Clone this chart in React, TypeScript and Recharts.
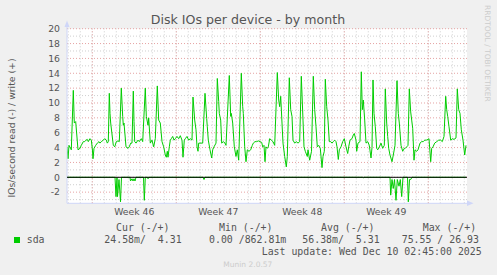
import React from "react";
import { ComposedChart, Line, XAxis, YAxis, ReferenceLine, CartesianGrid } from "recharts";

// time in 2-hour samples from the left edge of the graph
const writeT = [
  0, 1, 2, 3.5, 4.3, 6.3, 7.3, 8.7, 9.3, 11, 13, 14.3, 16.3, 17.7, 19, 20.3, 21.3, 23, 24.3, 25.3, 26, 27,
  28.7, 30.3, 32, 33, 34.3, 36.3, 37.7, 39.3, 40.3, 41.3, 42.3, 43, 43.7, 46.3, 47.7, 49.3, 51, 52.3,
  54.3, 55.7, 56.3, 57, 59, 61, 62.3, 63.7, 65, 66.3, 67, 67.7, 69, 71, 72.3, 74.3, 75.7, 78.3, 79.3,
  81, 81.7, 83.3, 85, 86.7, 88.3, 90.3, 91.7, 93.3, 95, 96.7, 98.3, 99.3, 100.3, 101, 102.3, 103.3,
  104.3, 105.7, 107, 108.3, 110, 111.7, 113.3, 115, 116, 117.3, 118.3, 120, 121.7, 123.3, 125, 126,
  127.7, 129, 130, 131, 131.7, 133, 135.7, 138, 139.7, 140.3, 141.3, 143, 144.7, 145.7, 147, 149,
  150.3, 151.7, 152.3, 153.7, 154.7, 156.3, 158, 159, 162.3, 163.7, 164.3, 165.7, 167.3, 169, 170.3,
  171.7, 174.3, 175.7, 176.3, 177.7, 179, 180.3, 182, 183.7, 185.3, 186.3, 188, 189.7, 191.3, 193,
  194.7, 195.7, 197, 198, 199, 200.3, 201.3, 202.7, 204.3, 206, 207.7, 210.3, 211.7, 212.7, 213.7,
  215, 216, 217.7, 219.3, 220.3, 222.3, 223.7, 225, 226, 227.7, 229.3, 231, 232.7, 234.3, 236, 237,
  238.3, 240.3, 241, 242.7, 244.5, 246.3, 247.7, 249, 250.3, 251.7, 253.3, 255, 256, 257.3, 258.3,
  259.7, 261, 262.3, 263.7, 265, 266.3, 267.7, 269, 270, 271.3, 272.3, 274, 275.7, 277.3, 279, 280.7,
  281.7, 283, 285, 286.3, 287.3, 289, 289.7, 291, 293, 294.3, 295.3, 296.3, 297.7, 299, 300.7, 302.3,
  304, 305, 306, 307, 308.3, 309.7, 310.7, 312.3, 314, 315.7, 317.3, 318.3, 319.7, 320.7, 321.7, 323,
  325, 326.3, 328, 330, 331.3, 332.3, 334, 335.7, 337.3, 338.3, 339.7, 341, 342.3, 343.7, 344.7,
  345.7, 347, 348, 349.7, 351, 353, 354.7, 356.3, 357.7, 359.3, 361, 362, 363.7, 364.7, 366, 367.7,
  369.7, 371.7, 373.7, 375.3, 377, 378.7, 379.7, 380.7, 382, 383.7, 385.3, 387, 389, 390.3, 391.7,
  393, 394.3, 396, 397.7, 399,
];
const writeV = [
  4.1, 2.5, 4.3, 3.9, 3.7, 11.7, 7.3, 7.5, 6.5, 3.7, 3.9, 4.3, 4.8, 4.8, 5.0, 5.1, 4.8, 5.2, 5.0, 3.9, 2.5, 3.9,
  4.3, 4.6, 4.8, 4.6, 4.8, 5.0, 5.2, 5.0, 4.6, 4.8, 11.3, 8.6, 7.3, 4.3, 4.1, 4.8, 4.9, 4.8,
  12.0, 8.2, 7.0, 7.3, 4.1, 3.9, 4.1, 4.6, 4.6, 11.6, 7.5, 4.8, 4.6, 5.0, 4.8, 5.2, 4.8, 12.0, 8.2,
  7.0, 8.0, 4.6, 5.0, 4.1, 5.2, 12.3, 7.7, 7.3, 4.8, 4.1, 3.0, 2.7, 3.5, 2.7, 4.1, 5.0,
  5.2, 5.5, 5.0, 5.2, 5.5, 5.2, 5.6, 5.0, 2.7, 5.0, 5.2, 5.5, 5.0, 5.2, 5.0, 10.8,
  7.7, 6.4, 4.1, 3.5, 4.6, 4.6, 4.6, 11.3, 7.9, 6.8, 5.0, 3.7, 2.6, 3.7, 4.1, 4.6,
  13.3, 10.2, 8.6, 7.7, 4.6, 4.8, 4.6, 4.3, 13.7, 8.2, 8.6, 7.3, 4.1, 2.8, 3.7,
  2.3, 14.0, 9.5, 8.6, 4.1, 2.1, 3.7, 3.5, 3.7, 4.3, 4.6, 4.8, 4.8, 4.9, 4.8,
  4.7, 4.1, 4.3, 2.1, 4.1, 3.9, 4.1, 5.2, 5.0, 4.8, 4.3, 14.1, 10.4, 9.5, 10.9,
  7.3, 4.6, 2.8, 1.4, 2.8, 13.4, 9.1, 8.2, 5.0, 4.6, 4.8, 4.6, 4.8, 13.6, 7.7, 4.1,
  3.5, 2.8, 3.7, 2.3, 3.5, 13.6, 9.1, 6.8, 4.1, 4.3, 3.9, 1.3, 2.8, 3.5, 13.2,
  9.5, 7.7, 4.8, 4.8, 4.6, 4.8, 5.0, 4.8, 4.1, 2.4, 3.7, 4.1, 4.8, 5.2, 4.1, 3.2,
  4.1, 5.0, 5.2, 5.7, 5.9, 5.0, 3.5, 4.6, 4.8, 14.2, 9.1, 10.4, 7.7, 4.6, 4.8, 4.3,
  2.6, 4.0, 13.1, 8.6, 6.8, 3.9, 3.7, 4.1, 4.6, 3.9, 4.3, 11.9, 7.3, 5.5, 3.9, 3.0,
  2.1, 3.0, 4.3, 13.0, 8.6, 7.3, 4.3, 3.5, 3.9, 3.9, 4.1, 4.3, 11.9, 8.8, 7.7,
  6.6, 2.3, 3.7, 3.5, 3.7, 4.6, 4.8, 4.8, 5.0, 5.0, 5.1, 5.2, 2.1, 3.9, 4.1, 4.6,
  4.8, 5.0, 5.0, 4.8, 5.5, 10.9, 9.1, 8.2, 6.8, 5.0, 5.2, 5.1, 5.3, 11.9, 9.1,
  8.6, 6.4, 5.0, 3.0, 4.3,
];
const readT = [
  0, 48, 49, 50, 50.5, 52, 53.5, 54.5, 63, 63.5, 65, 66, 67, 68, 69, 76.5, 77.3, 78.3, 80.5, 81, 82,
  136, 137, 138, 295.5, 296.3, 297, 323, 323.7, 325, 326.3, 327.5, 329, 330.3, 332, 333.3, 334.7, 336,
  340.5, 341.3, 342.5, 343.7, 345, 399,
];
const readV = [
  0, 0, -2.6, 0, -2.6, -0.3, -3.3, 0, 0, -0.5, -0.2, -0.5, -0.2, -0.5, 0, 0, -3.1, 0, 0, -0.2, 0,
  0, -0.3, 0, 0, -0.1, 0, 0, -2.4, -0.3, -1.5, -0.3, -3.1, -0.3, -1.2, -0.3, -2.6, 0,
  0, -3.3, -0.3, -0.3, 0, 0,
];

const weekTicks = [67.3, 151.3, 235.3, 319.3];
const weekLabels = ["Week 46", "Week 47", "Week 48", "Week 49"];
const yTicks = [-2, 0, 2, 4, 6, 8, 10, 12, 14, 16, 18, 20];

const seriesName = "sda";
const legendHeaders = ["Cur (-/+)", "Min (-/+)", "Avg (-/+)", "Max (-/+)"];
const legendValues = ["24.58m/  4.31", "0.00 /862.81m", "56.38m/  5.31", "75.55 / 26.93"];
const lastUpdate = "Last update: Wed Dec 10 02:45:00 2025";

const writeData = writeT.map((t, i) => ({ t, v: writeV[i] }));
const readData = readT.map((t, i) => ({ t, v: readV[i] }));

const dayLines: number[] = [];
for (let k = 0; k < 34; k++) dayLines.push(1.3 + 12 * k);
const weekLines: number[] = [];
for (let k = 0; k < 5; k++) weekLines.push(25.3 + 84 * k);
const hLines: number[] = [];
for (let v = -3; v <= 20; v++) hLines.push(v);

const GREEN = "#00cc00";
const AXIS = "#CFD6F8";
const FONT = "DejaVu Sans";
const MONO = "DejaVu Sans Mono";

export default function App() {
  return (
    <div style={{ position: "absolute", left: 0, top: 0, width: 497, height: 275, background: "#f0f0f0", overflow: "hidden" }}>
      <ComposedChart width={497} height={275} margin={{ top: 28.7, right: 30, bottom: 0, left: 0 }}>
        <CartesianGrid horizontal={false} vertical={false} fill="#ffffff" fillOpacity={1} stroke="none" />
        <XAxis
          dataKey="t"
          type="number"
          domain={[0, 400]}
          allowDataOverflow
          ticks={weekTicks}
          tickFormatter={(v: number) => weekLabels[weekTicks.indexOf(v)] ?? ""}
          height={71.7}
          axisLine={{ stroke: AXIS }}
          tickLine={false}
          tickSize={4}
          tickMargin={1}
          tick={{ fill: "#555", fontSize: 9.3, fontFamily: FONT }}
          interval={0}
        />
        <YAxis
          type="number"
          domain={[-3.5, 20]}
          allowDataOverflow
          ticks={yTicks}
          width={67}
          axisLine={{ stroke: AXIS }}
          tickLine={false}
          tickSize={5}
          tickMargin={2}
          tick={{ fill: "#555", fontSize: 9.3, fontFamily: FONT }}
          interval={0}
        />
        {hLines.map((v) => (
          <ReferenceLine key={"h" + v} y={v} stroke={v % 2 === 0 ? "#e6a3a3" : "#cfcfcf"} strokeDasharray="1 2" zIndex={-50} />
        ))}
        {dayLines.map((t) => (
          <ReferenceLine key={"d" + t} x={t} stroke="#cfcfcf" strokeDasharray="1 2" zIndex={-50} />
        ))}
        {weekLines.map((t) => (
          <ReferenceLine key={"w" + t} x={t} stroke="#e6a3a3" strokeDasharray="1 2" zIndex={-40} />
        ))}
        <Line data={readData} dataKey="v" type="linear" stroke={GREEN} strokeWidth={1} dot={false} isAnimationActive={false} />
        <Line data={writeData} dataKey="v" type="linear" stroke={GREEN} strokeWidth={1} dot={false} isAnimationActive={false} />
        <ReferenceLine y={0} stroke="#000000" strokeWidth={1} zIndex={1000} />
      </ComposedChart>
      <svg width={497} height={275} style={{ position: "absolute", left: 0, top: 0, pointerEvents: "none" }}>
        <polygon points="64.5,27 67,20.5 69.5,27" fill={AXIS} />
        <line x1={67} y1={27} x2={67} y2={29} stroke={AXIS} />
        <polygon points="467,200.5 473.5,203.3 467,206" fill={AXIS} />
        <text x={248} y={24} textAnchor="middle" fontFamily={FONT} fontSize={12.6} fill="#555">
          Disk IOs per device - by month
        </text>
        <text x={15} y={128} textAnchor="middle" fontFamily={FONT} fontSize={9.3} fill="#555" transform="rotate(-90 15 128)">
          IOs/second read (-) / write (+)
        </text>
        <text x={484.5} y={5} textAnchor="start" fontFamily={FONT} fontSize={7.5} fill="#cccccc" transform="rotate(90 484.5 5)">
          RRDTOOL / TOBI OETIKER
        </text>
        <rect x={14} y={237} width={6} height={6} fill={GREEN} />
        <text x={26.7} y={243.3} fontFamily={MONO} fontSize={9.9} fill="#555">{seriesName}</text>
        {legendHeaders.map((h, i) => (
          <text key={h} x={[116, 219, 321, 422.7][i]} y={230.5} fontFamily={MONO} fontSize={9.9} fill="#555" xmlSpace="preserve" style={{ whiteSpace: "pre" }}>
            {h}
          </text>
        ))}
        {legendValues.map((v, i) => (
          <text key={v} x={[104.3, 209, 302.3, 401.7][i]} y={243.3} fontFamily={MONO} fontSize={9.9} fill="#555" xmlSpace="preserve" style={{ whiteSpace: "pre" }}>
            {v}
          </text>
        ))}
        <text x={261.7} y={254.5} fontFamily={MONO} fontSize={9.9} fill="#555" xmlSpace="preserve" style={{ whiteSpace: "pre" }}>
          {lastUpdate}
        </text>
        <text x={223.3} y={266.5} fontFamily={FONT} fontSize={7.5} fill="#cccccc">
          Munin 2.0.57
        </text>
      </svg>
    </div>
  );
}
